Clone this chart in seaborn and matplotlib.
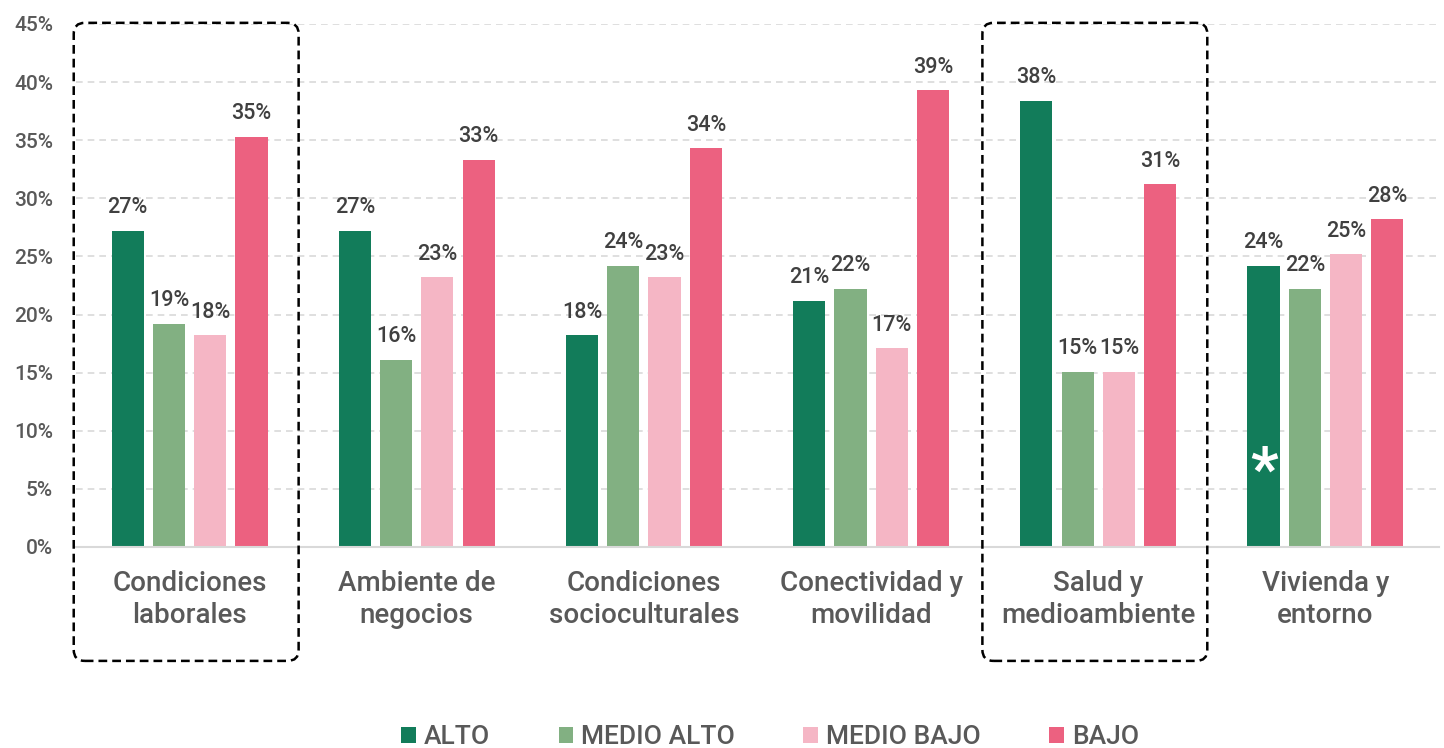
import matplotlib
matplotlib.use("Agg")
import matplotlib.pyplot as plt
import seaborn as sns
import pandas as pd
from matplotlib.patches import FancyBboxPatch
from matplotlib.transforms import IdentityTransform
from matplotlib.ticker import FuncFormatter

# ---------------- data ----------------
categories = ["Condiciones\nlaborales", "Ambiente de\nnegocios", "Condiciones\nsocioculturales",
              "Conectividad y\nmovilidad", "Salud y\nmedioambiente", "Vivienda y\nentorno"]
series = ["ALTO", "MEDIO ALTO", "MEDIO BAJO", "BAJO"]
alto = [27.2, 27.2, 18.2, 21.2, 38.4, 24.2]
medio_alto = [19.2, 16.1, 24.2, 22.2, 15.1, 22.2]
medio_bajo = [18.2, 23.2, 23.2, 17.1, 15.1, 25.2]
bajo = [35.3, 33.3, 34.3, 39.3, 31.2, 28.2]
highlighted = ["Condiciones\nlaborales", "Salud y\nmedioambiente"]
yticks = [0, 5, 10, 15, 20, 25, 30, 35, 40, 45]

colors = ["#127C5A", "#82B082", "#F5B6C5", "#EC6180"]

rows = []
for s, vals in zip(series, [alto, medio_alto, medio_bajo, bajo]):
    for c, v in zip(categories, vals):
        rows.append({"cat": c, "serie": s, "val": v})
df = pd.DataFrame(rows)

# ---------------- style ----------------
sns.set_style("white")
plt.rcParams["font.family"] = ["Roboto", "DejaVu Sans"]
plt.rcParams["font.weight"] = "medium"

W, H = 1444, 748
fig = plt.figure(figsize=(W / 100, H / 100), dpi=100)
ax = fig.add_axes([76 / W, 201 / H, (1439 - 76) / W, (547 - 24) / H])

sns.barplot(data=df, x="cat", y="val", hue="serie", order=categories, hue_order=series,
            palette=colors, width=0.726, gap=0.22, linewidth=0, ax=ax, errorbar=None,
            saturation=1)

ax.set_ylim(0, 45)
ax.set_xlim(-0.5, len(categories) - 0.5)
ax.set_yticks(yticks)
ax.yaxis.set_major_formatter(FuncFormatter(lambda v, p: f"{v:.0f}%"))
ax.grid(axis="y", color="#D9D9D9", linestyle=(0, (4, 3)), linewidth=1.2)
ax.set_axisbelow(True)
for sp in ["top", "right", "left"]:
    ax.spines[sp].set_visible(False)
ax.spines["bottom"].set_color("#D9D9D9")
ax.spines["bottom"].set_linewidth(1.5)
ax.tick_params(axis="y", length=0, pad=16.5, labelsize=15, labelcolor="#595959")
ax.tick_params(axis="x", length=0, pad=16.5, labelsize=20, labelcolor="#595959")
for t in ax.get_xticklabels():
    t.set_linespacing(1.25)
    t.set_fontweight("medium")
for t in ax.get_yticklabels():
    t.set_fontweight("medium")
ax.set_xlabel("")
ax.set_ylabel("")

# value labels
for cont in ax.containers:
    labels = [f"{round(b.get_height()):.0f}%" for b in cont]
    ax.bar_label(cont, labels=labels, padding=9, fontsize=15.5, color="#404040",
                 fontweight="medium")

# asterisk on ALTO bar of last category
alto_bar = ax.containers[0][len(categories) - 1]
ax.text(alto_bar.get_x() + alto_bar.get_width() / 2, 4.9, "*", color="white",
        fontsize=44, fontweight="bold", ha="center", va="baseline")

# legend
handles, labs = ax.get_legend_handles_labels()
ax.get_legend().remove()
fig.legend(handles, labs, loc="center", bbox_to_anchor=(770 / W, 1 - 737 / H), ncol=4,
           frameon=False, prop={"size": 19, "weight": "medium"}, labelcolor="#595959",
           handlelength=0.55, handleheight=0.55, handletextpad=0.3, columnspacing=2.6,
           borderpad=0)

# dashed highlight boxes
for c in highlighted:
    i = categories.index(c)
    x0, y0 = ax.transData.transform((i - 0.51, -9.8))
    x1, y1 = ax.transData.transform((i + 0.48, 45.1))
    box = FancyBboxPatch((x0, y0), x1 - x0, y1 - y0,
                         boxstyle="round,pad=0,rounding_size=11",
                         fill=False, edgecolor="black", linewidth=1.8,
                         linestyle=(0, (3.5, 2)), transform=IdentityTransform(),
                         clip_on=False)
    fig.add_artist(box)

fig.savefig("out.png", dpi=100)
